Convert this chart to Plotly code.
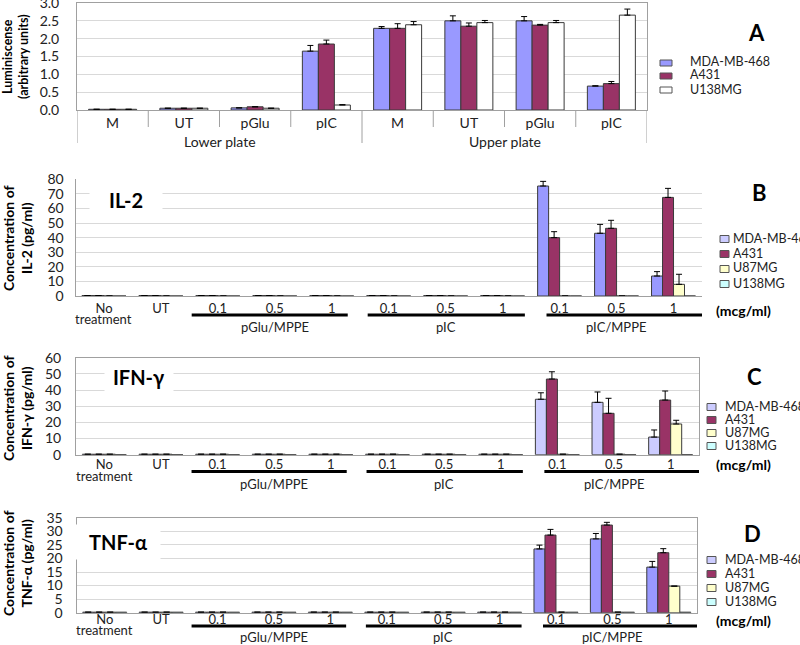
import plotly.graph_objects as go

W, H = 800, 645


def X(px):
    return px / W


def Y(py):
    return 1 - py / H


# ---------------- Panel A data ----------------
a_cats = ['M (lower)', 'UT (lower)', 'pGlu (lower)', 'pIC (lower)',
          'M (upper)', 'UT (upper)', 'pGlu (upper)', 'pIC (upper)']
a_ticks = ['M', 'UT', 'pGlu', 'pIC', 'M', 'UT', 'pGlu', 'pIC']
a_plates = ['Lower plate', 'Upper plate']
a_series = ['MDA-MB-468', 'A431', 'U138MG']
a_mda = [0.02, 0.05, 0.06, 1.65, 2.29, 2.50, 2.50, 0.67]
a_mda_err = [None, None, None, 0.16, 0.05, 0.14, 0.12, 0.01]
a_a431 = [0.02, 0.05, 0.09, 1.85, 2.29, 2.35, 2.38, 0.74]
a_a431_err = [None, None, None, 0.11, 0.13, 0.09, 0.02, 0.06]
a_u138 = [0.02, 0.05, 0.05, 0.14, 2.39, 2.45, 2.45, 2.66]
a_u138_err = [None, None, None, 0.01, 0.09, 0.06, 0.06, 0.17]

# ---------------- Panels B-D data ----------------
dose_cats = ['No treatment', 'UT', 'pGlu/MPPE 0.1', 'pGlu/MPPE 0.5', 'pGlu/MPPE 1',
             'pIC 0.1', 'pIC 0.5', 'pIC 1', 'pIC/MPPE 0.1', 'pIC/MPPE 0.5', 'pIC/MPPE 1']
dose_ticks = ['No', 'UT', '0.1', '0.5', '1', '0.1', '0.5', '1', '0.1', '0.5', '1']
treat_groups = ['pGlu/MPPE', 'pIC', 'pIC/MPPE']
cyto_series = ['MDA-MB-468', 'A431', 'U87MG', 'U138MG']

# B: IL-2
b_mda = [0.3, 0.3, 0.3, 0.3, 0.3, 0.3, 0.3, 0.3, 75.4, 43.0, 13.7]
b_mda_err = [None, None, None, None, None, None, None, None, 3.2, 6.1, 3.0]
b_a431 = [0.3, 0.3, 0.3, 0.3, 0.3, 0.3, 0.3, 0.3, 40.0, 46.4, 67.6]
b_a431_err = [None, None, None, None, None, None, None, None, 4.1, 5.5, 6.2]
b_u87 = [0, 0, 0, 0, 0, 0, 0, 0, 0, 0, 8.0]
b_u87_err = [None, None, None, None, None, None, None, None, None, None, 6.9]
b_u138 = [0, 0, 0, 0, 0, 0, 0, 0, 0, 0, 0]

# C: IFN-gamma
c_mda = [0.3, 0.3, 0.3, 0.3, 0.3, 0.3, 0.3, 0.3, 34.3, 32.4, 10.9]
c_mda_err = [None, None, None, None, None, None, None, None, 4.0, 6.4, 4.4]
c_a431 = [0.3, 0.3, 0.3, 0.3, 0.3, 0.3, 0.3, 0.3, 46.8, 25.6, 33.8]
c_a431_err = [None, None, None, None, None, None, None, None, 4.5, 9.3, 5.6]
c_u87 = [0.3, 0.3, 0.3, 0.3, 0.3, 0.3, 0.3, 0.3, 0.3, 0.3, 19.0]
c_u87_err = [None, None, None, None, None, None, None, None, None, None, 2.3]
c_u138 = [0, 0, 0, 0, 0, 0, 0, 0, 0, 0, 0]

# D: TNF-alpha
d_mda = [0.2, 0.2, 0.2, 0.2, 0.2, 0.2, 0.2, 0.2, 23.5, 27.2, 16.8]
d_mda_err = [None, None, None, None, None, None, None, None, 1.4, 2.0, 2.1]
d_a431 = [0.2, 0.2, 0.2, 0.2, 0.2, 0.2, 0.2, 0.2, 28.6, 32.3, 22.1]
d_a431_err = [None, None, None, None, None, None, None, None, 2.1, 1.0, 1.5]
d_u87 = [0.2, 0.2, 0.2, 0.2, 0.2, 0.2, 0.2, 0.2, 0.2, 0.2, 9.8]
d_u87_err = [None, None, None, None, None, None, None, None, None, None, None]
d_u138 = [0.2, 0.2, 0.2, 0.2, 0.2, 0.2, 0.2, 0.2, 0.2, 0.2, 0.2]

# ---------------- styles ----------------
FONT = 'Lato, Open Sans, sans-serif'
C_BLUE = '#9999FF'
C_LBLUE = '#CCCCFF'
C_A431 = '#993366'
C_U87 = '#FFFFCC'
C_U138 = '#CCFFFF'
C_WHITE = '#FFFFFF'
OUTLINE = '#3A3A3A'
GRID = '#D9D9D9'
AXLINE = '#A0A0A0'
TXT = '#222222'

fig = go.Figure()


def add_bars(cats, vals_list, errs_list, colors, xa, ya, bw, nser):
    for k, (vals, errs, col) in enumerate(zip(vals_list, errs_list, colors)):
        off = (k - nser / 2) * bw
        eb = None
        if errs is not None:
            eb = dict(type='data', array=errs, arrayminus=[0] * len(errs),
                      symmetric=False, color='black', thickness=1, width=3)
        fig.add_trace(go.Bar(
            x=cats, y=vals, width=bw, offset=off,
            marker=dict(color=col, line=dict(color=OUTLINE, width=1)),
            error_y=eb, xaxis=xa, yaxis=ya, showlegend=False))


add_bars(a_cats, [a_mda, a_a431, a_u138], [a_mda_err, a_a431_err, a_u138_err],
         [C_BLUE, C_A431, C_WHITE], 'x', 'y', 16 / 71.25, 3)
add_bars(dose_cats, [b_mda, b_a431, b_u87, b_u138], [b_mda_err, b_a431_err, b_u87_err, None],
         [C_BLUE, C_A431, C_U87, C_U138], 'x2', 'y2', 11 / 57, 4)
add_bars(dose_cats, [c_mda, c_a431, c_u87, c_u138], [c_mda_err, c_a431_err, c_u87_err, None],
         [C_LBLUE, C_A431, C_U87, C_U138], 'x3', 'y3', 11 / 56.6, 4)
add_bars(dose_cats, [d_mda, d_a431, d_u87, d_u138], [d_mda_err, d_a431_err, d_u87_err, None],
         [C_BLUE, C_A431, C_U87, C_U138], 'x4', 'y4', 11 / 56.4, 4)

# panel geometry (pixels): left, right, top, bottom
geo = {
    '': (77, 647, 3, 110),
    '2': (75.5, 702, 179.3, 296),
    '3': (76, 699, 357.7, 454.7),
    '4': (76.5, 697, 517.7, 612.7),
}
yr = {'': (0, 3.0001, 0.5), '2': (0, 80.01, 10), '3': (0, 60.01, 10), '4': (0, 35.01, 5)}
ystand = {'': 14, '2': 8, '3': 11, '4': 10}
xstand = {'': 0, '2': 0, '3': -2, '4': -5}
xfont = {'': 14, '2': 13, '3': 13, '4': 13}
boxed = {'': True, '2': False, '3': True, '4': True}

layout_axes = {}
for key, (l, r, t, b) in geo.items():
    cats = a_cats if key == '' else dose_cats
    ticks = a_ticks if key == '' else dose_ticks
    n = len(cats)
    lo, hi, dt = yr[key]
    layout_axes['xaxis' + key] = dict(
        domain=[X(l), X(r)], anchor='y' + key, type='category',
        categoryorder='array', categoryarray=cats,
        range=[-0.5, n - 0.5], tickvals=cats, ticktext=ticks,
        showline=True, linecolor=AXLINE, linewidth=1, mirror=boxed[key],
        showgrid=False, ticks='', tickfont=dict(family=FONT, size=xfont[key], color=TXT),
        ticklabelstandoff=xstand[key], fixedrange=True, automargin=False)
    layout_axes['yaxis' + key] = dict(
        domain=[Y(b), Y(t)], anchor='x' + key, range=[lo, hi], dtick=dt,
        tickformat='.1f' if key == '' else 'd',
        showline=True, linecolor=AXLINE, linewidth=1, mirror=boxed[key],
        showgrid=True, gridcolor=GRID, gridwidth=1, zeroline=False,
        ticks='', tickfont=dict(family=FONT, size=14, color=TXT),
        ticklabelstandoff=ystand[key], ticklabeloverflow='allow',
        fixedrange=True, automargin=False)

shapes = []
annotations = []

# panel A category dividers and plate labels
for i in range(len(a_cats) + 1):
    end = 143 if i in (0, 4, 8) else 127
    shapes.append(dict(type='line', xref='x', yref='paper', x0=i - 0.5, x1=i - 0.5,
                       y0=Y(110), y1=Y(end), line=dict(color=AXLINE, width=1)))
for txt, xc in zip(a_plates, [1.5, 5.5]):
    annotations.append(dict(text=txt, xref='x', yref='paper', x=xc, y=Y(141),
                            showarrow=False, font=dict(family=FONT, size=14, color=TXT),
                            xanchor='center', yanchor='middle'))

# treatment bars, "treatment" second line and group labels under B, C, D
bar_spans = [(1.54, 4.28), (4.63, 7.39), (7.77, 10.5)]
group_centres = [3, 6, 9]
for key, line_y, lab_y, treat_y in [('2', 315, 327, 319), ('3', 471.5, 484, 476),
                                     ('4', 626, 637, 630)]:
    for (x0, x1) in bar_spans:
        shapes.append(dict(type='line', xref='x' + key, yref='paper', x0=x0, x1=x1,
                           y0=Y(line_y), y1=Y(line_y), line=dict(color='black', width=3)))
    for txt, xc in zip(treat_groups, group_centres):
        annotations.append(dict(text=txt, xref='x' + key, yref='paper', x=xc, y=Y(lab_y),
                                showarrow=False, font=dict(family=FONT, size=13, color=TXT),
                                xanchor='center', yanchor='middle'))
    annotations.append(dict(text='treatment', xref='x' + key, yref='paper', x=dose_cats[0],
                            y=Y(treat_y), showarrow=False, xanchor='center', yanchor='middle',
                            font=dict(family=FONT, size=13, color=TXT)))

# y-axis titles
ytitles = [
    ('Luminiscense<br>(arbitrary units)', 16, 57, 12.5),
    ('Concentration of<br>IL-2 (pg/ml)', 17, 238, 14),
    ('Concentration of<br>IFN-γ (pg/ml)', 17, 408, 14),
    ('Concentration of<br>TNF-α (pg/ml)', 17, 563, 14),
]
for txt, xc, yc, fs in ytitles:
    annotations.append(dict(text='<b>' + txt + '</b>', xref='paper', yref='paper',
                            x=X(xc), y=Y(yc), textangle=-90, showarrow=False,
                            xanchor='center', yanchor='middle',
                            font=dict(family=FONT, size=fs, color='black')))

# panel letters
for txt, xc, yc in [('A', 756, 32), ('B', 759, 192), ('C', 754, 376), ('D', 752, 533)]:
    annotations.append(dict(text='<b>' + txt + '</b>', xref='paper', yref='paper',
                            x=X(xc), y=Y(yc), showarrow=False, xanchor='center', yanchor='middle',
                            font=dict(family=FONT, size=22, color='black')))

# cytokine labels with white boxes
for txt, xc, yc, bw, bh in [('IL-2', 126, 200, 70, 30), ('IFN-γ', 139, 377, 66, 30),
                            ('TNF-α', 118, 542, 82, 32)]:
    annotations.append(dict(text='<b>' + txt + '</b>', xref='paper', yref='paper',
                            x=X(xc), y=Y(yc), showarrow=False, xanchor='center', yanchor='middle',
                            width=bw, height=bh, bgcolor='white',
                            font=dict(family=FONT, size=20, color='black')))

# (mcg/ml)
for yc in (310, 465, 620):
    annotations.append(dict(text='<b>(mcg/ml)</b>', xref='paper', yref='paper',
                            x=X(743), y=Y(yc), showarrow=False, xanchor='center', yanchor='middle',
                            font=dict(family=FONT, size=14, color='black')))

# legends (drawn manually to match the tight row spacing)
legends = [
    (a_series, [C_BLUE, C_A431, C_WHITE], 660, 672, 6, 688, [62, 75, 89]),
    (cyto_series, [C_LBLUE, C_A431, C_U87, C_U138], 720, 729, 7, 731, [238, 253, 268, 283]),
    (cyto_series, [C_LBLUE, C_A431, C_U87, C_U138], 707, 716, 7, 723, [406, 419, 432, 445]),
    (cyto_series, [C_LBLUE, C_A431, C_U87, C_U138], 707, 716, 7, 723, [559, 573, 587, 601]),
]
for names, cols, mx0, mx1, mh, tx, rows in legends:
    for name, col, ry in zip(names, cols, rows):
        shapes.append(dict(type='rect', xref='paper', yref='paper',
                           x0=X(mx0), x1=X(mx1), y0=Y(ry + 1 + mh / 2), y1=Y(ry + 1 - mh / 2),
                           fillcolor=col, line=dict(color='#555', width=1)))
        annotations.append(dict(text=name, xref='paper', yref='paper', x=X(tx), y=Y(ry),
                                showarrow=False, xanchor='left', yanchor='middle',
                                font=dict(family=FONT, size=12.5, color=TXT)))

fig.update_layout(
    width=W, height=H, autosize=False,
    margin=dict(l=0, r=0, t=0, b=0, pad=0, autoexpand=False),
    paper_bgcolor='white', plot_bgcolor='white',
    barmode='overlay', showlegend=False,
    font=dict(family=FONT, size=14, color=TXT),
    shapes=shapes, annotations=annotations,
    **layout_axes)

fig.write_html('out.html',
               config={'displayModeBar': False, 'staticPlot': True},
               post_script="document.body.style.margin='0';document.body.style.overflow='hidden';")
